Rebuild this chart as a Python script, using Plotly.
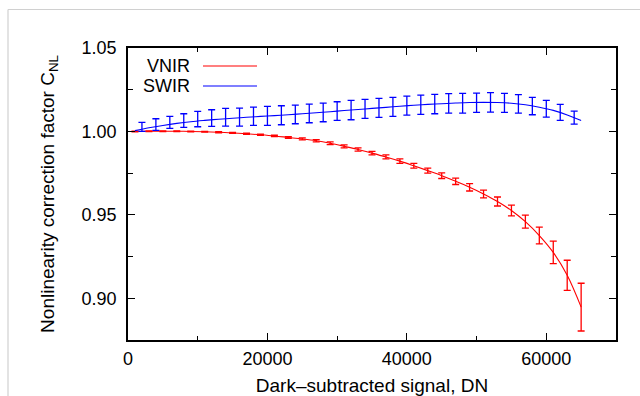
import plotly.graph_objects as go

# ---- data ----
vnir_x = [1000 + 2000 * i for i in range(33)]
vnir_y = [1.0000, 1.0001, 1.0001, 1.0001, 1.0000, 0.9998, 0.9995, 0.9991, 0.9986, 0.9980,
          0.9973, 0.9964, 0.9955, 0.9944, 0.9929, 0.9911, 0.9892, 0.9870, 0.9847, 0.9822,
          0.9794, 0.9765, 0.9735, 0.9701, 0.9665, 0.9625, 0.9580, 0.9526, 0.9459, 0.9376,
          0.9275, 0.9138, 0.8947]
vnir_err = [0.0002, 0.0002, 0.0002, 0.0002, 0.0002, 0.0002, 0.0003, 0.0003, 0.0003, 0.0003,
            0.0004, 0.0005, 0.0006, 0.0007, 0.0008, 0.0009, 0.0010, 0.0011, 0.0012, 0.0013,
            0.0014, 0.0015, 0.0017, 0.0019, 0.0022, 0.0023, 0.0027, 0.0032, 0.0039, 0.0050,
            0.0067, 0.0090, 0.0143]
vnir_fit_x = [0] + vnir_x
vnir_fit_y = [1.0000] + vnir_y

swir_x = [2000 * i for i in range(1, 33)]
swir_y = [1.0027, 1.0041, 1.0054, 1.0065, 1.0074, 1.0080, 1.0085, 1.0086, 1.0091, 1.0093,
          1.0097, 1.0102, 1.0108, 1.0114, 1.0122, 1.0128, 1.0135, 1.0141, 1.0147, 1.0155,
          1.0160, 1.0164, 1.0168, 1.0169, 1.0172, 1.0174, 1.0171, 1.0165, 1.0152, 1.0136,
          1.0114, 1.0083]
swir_err = [0.0027, 0.0035, 0.0036, 0.0041, 0.0046, 0.0050, 0.0053, 0.0054, 0.0055, 0.0057,
            0.0057, 0.0056, 0.0056, 0.0056, 0.0056, 0.0058, 0.0057, 0.0057, 0.0057, 0.0057,
            0.0058, 0.0058, 0.0058, 0.0059, 0.0058, 0.0058, 0.0057, 0.0055, 0.0052, 0.0050,
            0.0048, 0.0039]
swir_fit_x = [1000 + 2000 * i for i in range(33)]
swir_fit_y = [1.0005, 1.0022, 1.0036, 1.0048, 1.0058, 1.0066, 1.0073, 1.0079, 1.0085, 1.0090,
              1.0095, 1.0100, 1.0106, 1.0112, 1.0118, 1.0125, 1.0131, 1.0138, 1.0144, 1.0151,
              1.0157, 1.0162, 1.0166, 1.0170, 1.0173, 1.0174, 1.0173, 1.0169, 1.0160, 1.0145,
              1.0126, 1.0099, 1.0065]

x_ticks = [0, 20000, 40000, 60000]
y_ticks = [0.90, 0.95, 1.00, 1.05]

RED = "#ff0000"
BLUE = "#0000ff"
FONT = "Liberation Sans"

fig = go.Figure()

fig.add_trace(go.Scatter(x=vnir_fit_x, y=vnir_fit_y, mode="lines", line=dict(color=RED, width=1.1, shape="spline"),
                         showlegend=False, hoverinfo="skip"))
fig.add_trace(go.Scatter(x=vnir_x, y=vnir_y, mode="markers", marker=dict(opacity=0, size=2, color=RED),
                         error_y=dict(type="data", array=vnir_err, color=RED, thickness=1.3, width=3.5),
                         showlegend=False))
fig.add_trace(go.Scatter(x=swir_fit_x, y=swir_fit_y, mode="lines", line=dict(color=BLUE, width=1.1, shape="spline"),
                         showlegend=False, hoverinfo="skip"))
fig.add_trace(go.Scatter(x=swir_x, y=swir_y, mode="markers", marker=dict(opacity=0, size=2, color=BLUE),
                         error_y=dict(type="data", array=swir_err, color=BLUE, thickness=1.3, width=3.5),
                         showlegend=False))

L, R, T, B = 128, 24, 48, 56
W, H = 640, 396
pw, ph = W - L - R, H - T - B

def px(xp):
    return (xp - L) / pw

def py(yp):
    return (H - B - yp) / ph

shapes = [
    dict(type="line", xref="paper", yref="paper", x0=px(8), x1=px(660), y0=py(9.5), y1=py(9.5),
         line=dict(color="#d0d0d0", width=1.2)),
    dict(type="line", xref="paper", yref="paper", x0=px(8), x1=px(8), y0=py(9.5), y1=py(420),
         line=dict(color="#d0d0d0", width=1.2)),
    dict(type="line", xref="paper", yref="paper", x0=px(203), x1=px(257), y0=py(66), y1=py(66),
         line=dict(color=RED, width=1.1)),
    dict(type="line", xref="paper", yref="paper", x0=px(203), x1=px(257), y0=py(86), y1=py(86),
         line=dict(color=BLUE, width=1.1)),
]
annotations = [
    dict(text="VNIR", xref="paper", yref="paper", x=px(192), y=py(66), xanchor="right", yanchor="middle",
         showarrow=False, font=dict(family=FONT, size=18, color="black")),
    dict(text="SWIR", xref="paper", yref="paper", x=px(192), y=py(86), xanchor="right", yanchor="middle",
         showarrow=False, font=dict(family=FONT, size=18, color="black")),
]

fig.update_layout(
    width=W, height=H,
    margin=dict(l=L, r=R, t=T, b=B, autoexpand=False),
    paper_bgcolor="white", plot_bgcolor="white",
    font=dict(family=FONT, size=18, color="black"),
    shapes=shapes, annotations=annotations,
    showlegend=False,
)
fig.update_xaxes(
    range=[0, 70000], tickvals=x_ticks, ticktext=[str(v) for v in x_ticks],
    showline=True, linecolor="black", linewidth=1.5, mirror="allticks",
    ticks="inside", ticklen=7, tickwidth=1.2, tickcolor="black",
    minor=dict(dtick=10000, ticks="inside", ticklen=4, tickwidth=1.2, tickcolor="black"),
    showgrid=False, zeroline=False, ticklabelstandoff=2, automargin=False,
    title=dict(text="Dark\u2013subtracted signal, DN", standoff=14, font=dict(size=19)),
)
fig.update_yaxes(
    range=[0.875, 1.05], tickvals=y_ticks, ticktext=["%.2f" % v for v in y_ticks],
    showline=True, linecolor="black", linewidth=1.5, mirror="allticks",
    ticks="inside", ticklen=7, tickwidth=1.2, tickcolor="black",
    minor=dict(dtick=0.025, tick0=0.875, ticks="inside", ticklen=5, tickwidth=1.2, tickcolor="black"),
    showgrid=False, zeroline=False, ticklabelstandoff=6, automargin=False,
    title=dict(text="Nonlinearity correction factor C<sub>NL</sub>", standoff=22, font=dict(size=19)),
)

fig.write_html("out.html")
